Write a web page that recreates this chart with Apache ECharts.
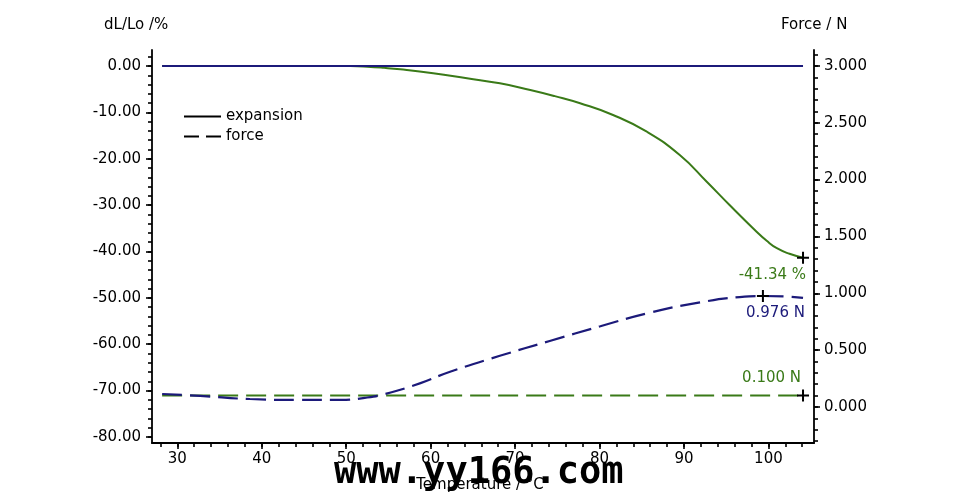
<!DOCTYPE html>
<html><head><meta charset="utf-8">
<script src="https://cdn.jsdelivr.net/npm/echarts@6/dist/echarts.min.js"></script>
<style>html,body{margin:0;padding:0;background:#fff}#c{width:960px;height:500px}</style>
</head><body><div id="c"></div>
<script>
// ---- data ----
const expansionT = [28.2, 35, 42, 48, 50.5, 52.5, 54.5, 56.4, 60.3, 64.3, 68.2, 71.8, 74.7, 77.7, 81.6, 85.6, 89.5, 92.7, 95.4, 98.6, 99.8, 101.0, 102.5, 104.1];
const expansionV = [0, 0, 0, 0, -0.02, -0.15, -0.4, -0.72, -1.58, -2.66, -3.74, -5.18, -6.5, -8.04, -10.57, -14.17, -19.19, -24.95, -29.97, -35.73, -37.7, -39.3, -40.5, -41.34];
const forceT = [28.2, 32.7, 38.6, 44.6, 49.3, 52.2, 54.6, 58.8, 62.3, 68.2, 74.1, 80.1, 86.0, 91.9, 96.6, 99.35, 102.5, 104.1];
const forceV = [0.114, 0.097, 0.07, 0.062, 0.062, 0.08, 0.114, 0.21, 0.31, 0.45, 0.58, 0.71, 0.83, 0.92, 0.967, 0.976, 0.97, 0.96];
const baselineT = [28.2, 104.1];
const baselineV = [0, 0];
const thresholdT = [28.2, 104.1];
const thresholdV = [0.1, 0.1];
const markExpT = [104.1], markExpV = [-41.34], markExpText = ['-41.34 %'];
const markForceT = [99.35, 104.1], markForceV = [0.976, 0.1], markForceText = ['0.976 N', '0.100 N'];
const xTickLabels = [30, 40, 50, 60, 70, 80, 90, 100];
const leftTickLabels = [0, -10, -20, -30, -40, -50, -60, -70, -80];
const rightTickLabels = [0, 0.5, 1.0, 1.5, 2.0, 2.5, 3.0];

const GREEN = '#3a7a18', NAVY = '#1c1a7a';
const FONT = 'DejaVu Sans';
const FS = 15;
function range(a, b, s) { const r = []; for (let v = a; v <= b + 1e-9; v += s) r.push(+v.toFixed(4)); return r; }
const zip = (a, b) => a.map((v, i) => [v, b[i]]);

const xMin = 27.0, xMax = 105.4;
const lMin = -81.3, lMax = 3.45;
const rMin = -0.317, rMax = 3.14;

const lineW = 1.8;
function mainAxis(extra) {
  return Object.assign({
    type: 'value', splitLine: { show: false },
    axisLine: { show: true, onZero: false, lineStyle: { color: '#000', width: lineW } },
    axisLabel: { color: '#000', fontFamily: FONT, fontSize: FS }
  }, extra);
}
function minorAxis(extra) {
  return Object.assign({
    type: 'value', splitLine: { show: false },
    axisLine: { show: false, onZero: false },
    axisLabel: { show: false }
  }, extra);
}
const tickStyle = { color: '#000', width: 1.6 };

const chart = echarts.init(document.getElementById('c'), null, { renderer: 'canvas' });
const plus = 'path://M5,0H7V5H12V7H7V12H5V7H0V5H5Z';
chart.setOption({
  animation: false,
  grid: { left: 152, right: 146, top: 50, bottom: 57, containLabel: false },
  xAxis: [
    mainAxis({ min: xMin, max: xMax, position: 'bottom',
      axisTick: { show: true, length: 6, customValues: xTickLabels, lineStyle: tickStyle },
      axisLabel: { color: '#000', fontFamily: FONT, fontSize: FS, margin: 9, customValues: xTickLabels } }),
    minorAxis({ min: xMin, max: xMax, position: 'bottom',
      axisTick: { show: true, length: 4, customValues: range(28, 104, 2), lineStyle: tickStyle } })
  ],
  yAxis: [
    mainAxis({ min: lMin, max: lMax, position: 'left',
      axisTick: { show: true, length: 6, customValues: leftTickLabels, lineStyle: tickStyle },
      axisLabel: { color: '#000', fontFamily: FONT, fontSize: FS, margin: 11, customValues: leftTickLabels, formatter: v => v.toFixed(2) } }),
    mainAxis({ min: rMin, max: rMax, position: 'right',
      axisTick: { show: true, length: 6, customValues: rightTickLabels, lineStyle: tickStyle },
      axisLabel: { color: '#000', fontFamily: FONT, fontSize: FS, margin: 10, customValues: rightTickLabels, formatter: v => v.toFixed(3) } }),
    minorAxis({ min: lMin, max: lMax, position: 'left',
      axisTick: { show: true, length: 4, customValues: range(-80, 2, 2), lineStyle: tickStyle } }),
    minorAxis({ min: rMin, max: rMax, position: 'right',
      axisTick: { show: true, length: 4, customValues: range(-0.3, 3.1, 0.1), lineStyle: tickStyle } })
  ],
  legend: {
    orient: 'vertical', left: 178, top: 104, itemWidth: 37, itemHeight: 14, itemGap: 5,
    textStyle: { fontFamily: FONT, fontSize: FS, color: '#000' },
    itemStyle: { opacity: 0 },
    data: ['expansion', 'force']
  },
  series: [
    { name: 'expansion', type: 'line', data: [], symbol: 'circle', itemStyle: { color: 'rgba(0,0,0,0)' }, lineStyle: { color: '#000', width: 2, type: 'solid' } },
    { name: 'force', type: 'line', data: [], symbol: 'circle', itemStyle: { color: 'rgba(0,0,0,0)' }, lineStyle: { color: '#000', width: 2, type: [15, 7] } },
    { type: 'line', xAxisIndex: 0, yAxisIndex: 1, data: zip(thresholdT, thresholdV), symbol: 'none',
      lineStyle: { color: GREEN, width: 2, type: [20, 8] }, z: 2 },
    { type: 'line', xAxisIndex: 0, yAxisIndex: 1, data: zip(forceT, forceV), symbol: 'none', smooth: 0.5,
      lineStyle: { color: NAVY, width: 2.2, type: [20, 8] }, z: 3 },
    { type: 'line', xAxisIndex: 0, yAxisIndex: 0, data: zip(expansionT, expansionV), symbol: 'none', smooth: 0.5,
      lineStyle: { color: GREEN, width: 2 }, z: 3 },
    { type: 'line', xAxisIndex: 0, yAxisIndex: 0, data: zip(baselineT, baselineV), symbol: 'none',
      lineStyle: { color: NAVY, width: 2 }, z: 4 },
    { type: 'scatter', xAxisIndex: 0, yAxisIndex: 0, symbol: plus, symbolSize: 12, z: 6,
      itemStyle: { color: '#000', opacity: 1 },
      data: markExpT.map((t, i) => ({ value: [t, markExpV[i]],
        label: { show: true, formatter: markExpText[i], color: GREEN, fontFamily: FONT, fontSize: FS, position: 'bottom', align: 'right', offset: [3, -1] } })) },
    { type: 'scatter', xAxisIndex: 0, yAxisIndex: 1, symbol: plus, symbolSize: 12, z: 6,
      itemStyle: { color: '#000', opacity: 1 },
      data: markForceT.map((t, i) => ({ value: [t, markForceV[i]],
        label: i === 0
          ? { show: true, formatter: markForceText[i], color: NAVY, fontFamily: FONT, fontSize: FS, position: 'bottom', align: 'right', offset: [42, -1] }
          : { show: true, formatter: markForceText[i], color: GREEN, fontFamily: FONT, fontSize: FS, position: 'top', align: 'right', offset: [-2, 1] } })) }
  ],
  graphic: [
    { type: 'text', left: 104, top: 18, style: { text: 'dL/Lo /%', font: '15px "DejaVu Sans"', fill: '#000' } },
    { type: 'text', left: 781, top: 18, style: { text: 'Force / N', font: '15px "DejaVu Sans"', fill: '#000' } },
    { type: 'text', left: 'center', top: 478, z: 1, style: { text: 'Temperature / °C', font: '15px "DejaVu Sans"', fill: '#000' } },
    { type: 'text', left: 334, top: 455, z: 10, style: { text: 'www.yy166.com', font: 'bold 37px "DejaVu Sans Mono"', fill: '#000' } }
  ]
});
</script></body></html>
